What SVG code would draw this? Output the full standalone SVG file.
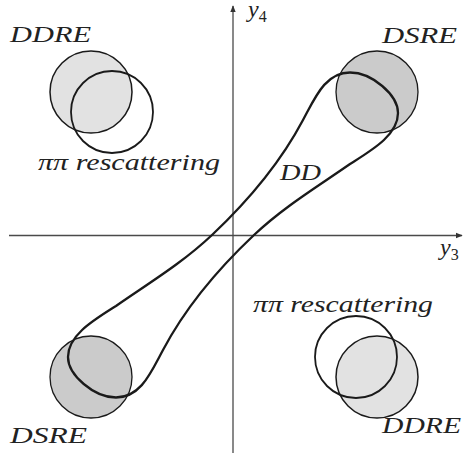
<svg xmlns="http://www.w3.org/2000/svg" width="463" height="455" viewBox="0 0 463 455">
  <style>
    .lbl { font-family: "Liberation Serif", "Times New Roman", serif; font-style: italic; font-size: 24px; fill: #222; }
    .sub { font-family: "Liberation Serif", "Times New Roman", serif; font-size: 16px; fill: #222; }
    .ddre { fill: #e2e2e2; stroke: #1a1a1a; stroke-width: 1.5; }
    .dsre { fill: #cbcbcb; stroke: #1a1a1a; stroke-width: 1.3; }
    .pipi { fill: none; stroke: #1a1a1a; stroke-width: 1.8; }
    .axis { stroke: #4a4a4a; stroke-width: 1.3; fill: none; }
    .dd { fill: none; stroke: #1a1a1a; stroke-width: 2.3; stroke-linejoin: round; }
  </style>
  <defs>
    <marker id="arr" viewBox="0 0 10 10" refX="9" refY="5" markerWidth="7" markerHeight="7" markerUnits="userSpaceOnUse" orient="auto">
      <path d="M0,1 L10,5 L0,9 Z" fill="#333"/>
    </marker>
  </defs>

  <g id="axes">
    <line class="axis" x1="9" y1="235.5" x2="462" y2="235.5" marker-end="url(#arr)"/>
    <line class="axis" x1="233" y1="453" x2="233" y2="6" marker-end="url(#arr)"/>
    <text class="lbl" x="248" y="17">y<tspan class="sub" dy="4.5" font-style="normal">4</tspan></text>
    <text class="lbl" x="440" y="255">y<tspan class="sub" dy="4.5" font-style="normal">3</tspan></text>
  </g>

  <g id="ddre-top-left">
    <circle class="ddre" cx="91" cy="92" r="41"/>
    <circle class="pipi" cx="112" cy="112" r="41"/>
    <text class="lbl" x="10" y="42" textLength="81" lengthAdjust="spacingAndGlyphs">DDRE</text>
    <text class="lbl" x="38" y="170" textLength="182" lengthAdjust="spacingAndGlyphs">ππ rescattering</text>
  </g>

  <g id="dsre-top-right">
    <circle class="dsre" cx="377" cy="92" r="41"/>
    <text class="lbl" x="382" y="42.5" textLength="75" lengthAdjust="spacingAndGlyphs">DSRE</text>
  </g>

  <g id="dsre-bottom-left">
    <circle class="dsre" cx="91" cy="377" r="41"/>
    <text class="lbl" x="10" y="443" textLength="77" lengthAdjust="spacingAndGlyphs">DSRE</text>
  </g>

  <g id="ddre-bottom-right">
    <circle class="ddre" cx="377" cy="377" r="41"/>
    <circle class="pipi" cx="356" cy="357" r="41"/>
    <text class="lbl" x="253" y="311.5" textLength="180" lengthAdjust="spacingAndGlyphs">ππ rescattering</text>
    <text class="lbl" x="382" y="433" textLength="79" lengthAdjust="spacingAndGlyphs">DDRE</text>
  </g>

  <g id="dd">
    <path class="dd" d="M212,235 C247,202 281,161.6 303,120 C315,98 325,72.5 350,72.5 C372,72.5 398,95 398,113 C398,135 372,150 350,164 C317,187 284,206.7 254,235 C219,268 185,308.4 163,350 C151,372 141,397.5 116,397.5 C94,397.5 68,375 68,357 C68,335 94,320 116,306 C149,283 182,263.3 212,235 Z"/>
    <text class="lbl" x="280" y="180" textLength="41" lengthAdjust="spacingAndGlyphs">DD</text>
  </g>
</svg>
